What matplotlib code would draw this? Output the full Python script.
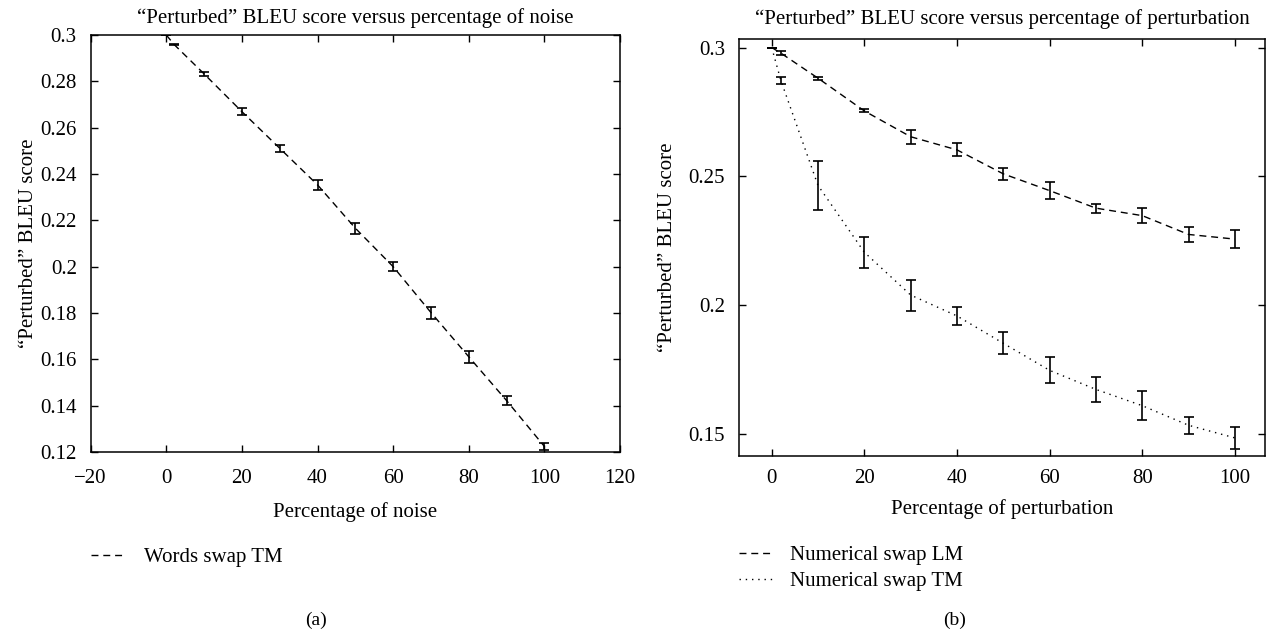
import matplotlib
matplotlib.use("Agg")
import matplotlib.pyplot as plt

plt.rcParams['font.family'] = ['Liberation Serif', 'DejaVu Serif']

# Panel (a): Words swap TM
noise_pct = [0, 2, 10, 20, 30, 40, 50, 60, 70, 80, 90, 100]
words_tm = [0.300, 0.296, 0.2832, 0.2669, 0.2511, 0.2353, 0.2166, 0.2000, 0.1802, 0.1611, 0.1422, 0.1224]
words_tm_err = [0.0, 0.0003, 0.0009, 0.0015, 0.0016, 0.0021, 0.0023, 0.0019, 0.0026, 0.0025, 0.0021, 0.0014]

# Panel (b): Numerical swap LM / TM
pert_pct = [0, 2, 10, 20, 30, 40, 50, 60, 70, 80, 90, 100]
num_lm = [0.300, 0.2978, 0.2881, 0.2754, 0.2654, 0.2603, 0.2510, 0.2445, 0.2377, 0.2348, 0.2275, 0.2257]
num_lm_err = [0.0, 0.0008, 0.0006, 0.0006, 0.0027, 0.0025, 0.0023, 0.0032, 0.0017, 0.0028, 0.0029, 0.0036]
num_tm = [0.300, 0.2871, 0.2465, 0.2206, 0.2040, 0.1959, 0.1853, 0.1748, 0.1674, 0.1611, 0.1535, 0.1486]
num_tm_err = [0.0, 0.0014, 0.0096, 0.0060, 0.0060, 0.0035, 0.0043, 0.0050, 0.0049, 0.0055, 0.0032, 0.0043]

xticks_a = [-20, 0, 20, 40, 60, 80, 100, 120]
yticks_a = [0.12, 0.14, 0.16, 0.18, 0.2, 0.22, 0.24, 0.26, 0.28, 0.3]
xticks_b = [0, 20, 40, 60, 80, 100]
yticks_b = [0.15, 0.2, 0.25, 0.3]

FS = 15
W, H = 1270, 631
fig = plt.figure(figsize=(12.7, 6.31), dpi=100)
axa = fig.add_axes([90.7 / W, 1 - 452 / H, (620 - 90.7) / W, (452 - 35) / H])
axb = fig.add_axes([739 / W, 1 - 455.7 / H, (1265 - 739) / W, (455.7 - 39) / H])

def style(ax, xpad):
    ax.tick_params(direction='in', top=True, right=True, length=5, width=1,
                   labelsize=FS)
    ax.tick_params(axis='y', pad=10)
    ax.tick_params(axis='x', pad=xpad)
    for s in ax.spines.values():
        s.set_linewidth(1.1)

def fmt(v):
    return ('%g' % v).replace('-', '\u2212')

ekw = dict(ecolor='black', elinewidth=1.2, capsize=3.5, capthick=1.2)

axa.errorbar(noise_pct, words_tm, yerr=words_tm_err, color='black', lw=1.0,
             dashes=(5, 3.5), label='Words swap TM', **ekw)
axa.set_xlim(-20, 120)
axa.set_ylim(0.12, 0.3)
axa.set_xticks(xticks_a)
axa.set_xticklabels([fmt(v) for v in xticks_a])
axa.set_yticks(yticks_a)
axa.set_yticklabels([fmt(v) for v in yticks_a])
style(axa, 12.5)
axa.set_title('\u201cPerturbed\u201d BLEU score versus percentage of noise', fontsize=FS, pad=9)
axa.set_xlabel('Percentage of noise', fontsize=FS, labelpad=10)
axa.set_ylabel('\u201cPerturbed\u201d BLEU score', fontsize=FS, labelpad=2)
h, l = axa.get_legend_handles_labels()
axa.legend([hh[0] for hh in h], l, loc='center left', bbox_to_anchor=(90.7 / W, 1 - 557 / H),
           bbox_transform=fig.transFigure, borderpad=0, borderaxespad=0,
           frameon=False, fontsize=FS, handlelength=1.65, handletextpad=0.9)

axb.errorbar(pert_pct, num_lm, yerr=num_lm_err, color='black', lw=1.0,
             dashes=(5, 3.5), label='Numerical swap LM', **ekw)
axb.errorbar(pert_pct, num_tm, yerr=num_tm_err, color='black', lw=1.0,
             dashes=(1, 3.5), label='Numerical swap TM', **ekw)
axb.set_xlim(-7.06, 106.5)
axb.set_ylim(0.1417, 0.3033)
axb.set_xticks(xticks_b)
axb.set_xticklabels([fmt(v) for v in xticks_b])
axb.set_yticks(yticks_b)
axb.set_yticklabels([fmt(v) for v in yticks_b])
style(axb, 9.7)
axb.set_title('\u201cPerturbed\u201d BLEU score versus percentage of perturbation', fontsize=FS, pad=11)
axb.set_xlabel('Percentage of perturbation', fontsize=FS, labelpad=8)
axb.set_ylabel('\u201cPerturbed\u201d BLEU score', fontsize=FS, labelpad=8.4)
h, l = axb.get_legend_handles_labels()
axb.legend([hh[0] for hh in h], l, loc='center left', bbox_to_anchor=(739 / W, 1 - 568.5 / H),
           bbox_transform=fig.transFigure, borderpad=0, borderaxespad=0,
           frameon=False, fontsize=FS, handlelength=1.65, handletextpad=0.8,
           labelspacing=0.3)

fig.text(316.5 / W, 1 - 620 / H, '(a)', ha='center', va='center', fontsize=FS - 1)
fig.text(955 / W, 1 - 620 / H, '(b)', ha='center', va='center', fontsize=FS - 1)

fig.savefig('out.png', dpi=100)
